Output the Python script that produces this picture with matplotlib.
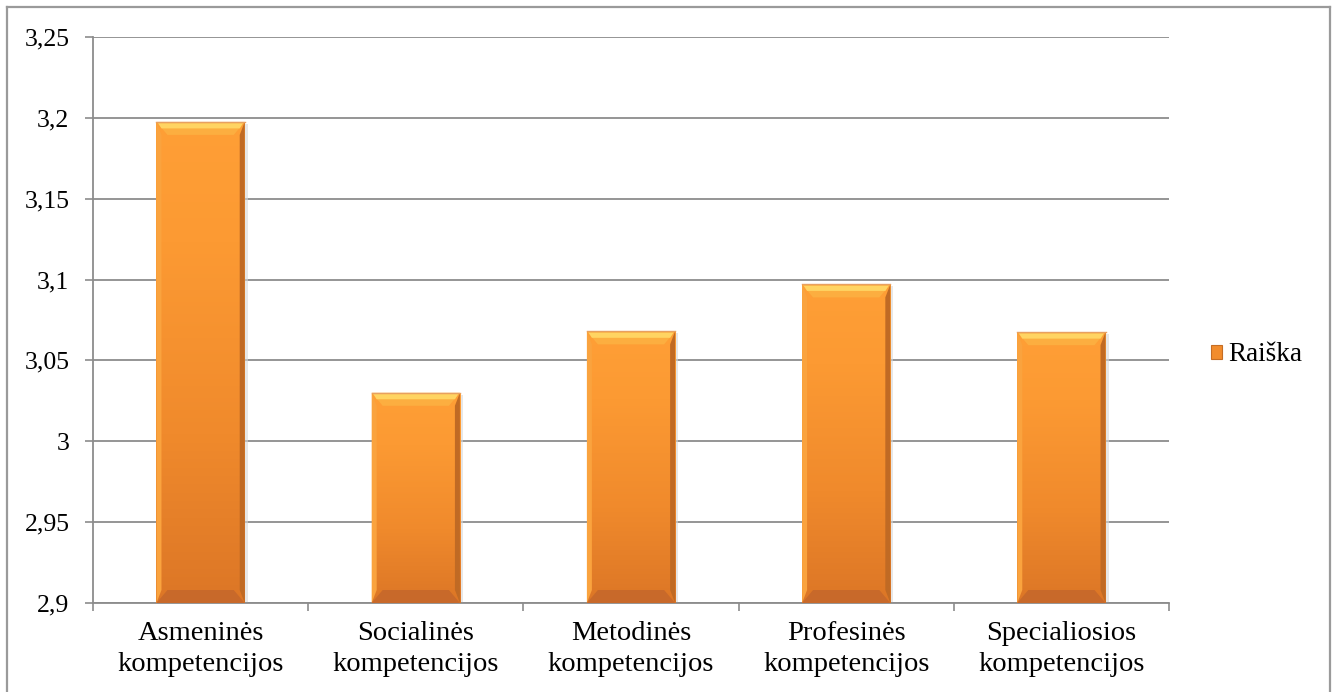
import numpy as np
import matplotlib.pyplot as plt
from matplotlib.patches import Polygon, Rectangle, Patch
from matplotlib.colors import LinearSegmentedColormap

categories = ["Asmeninės\nkompetencijos", "Socialinės\nkompetencijos",
              "Metodinės\nkompetencijos", "Profesinės\nkompetencijos",
              "Specialiosios\nkompetencijos"]
values = [3.1975, 3.030, 3.068, 3.097, 3.0675]
series_name = "Raiška"
y_ticks = [2.9, 2.95, 3.0, 3.05, 3.1, 3.15, 3.2, 3.25]
y_tick_labels = ["2,9", "2,95", "3", "3,05", "3,1", "3,15", "3,2", "3,25"]

plt.rcParams['font.family'] = ['Liberation Serif', 'DejaVu Serif']
grey = "#8c8c8c"

fig = plt.figure(figsize=(13.36, 6.92), dpi=100)
ax = fig.add_axes([93 / 1336, 1 - 603 / 692, (1169 - 93) / 1336, (603 - 37) / 692])

x = np.arange(len(values))
width = 0.41
ymin, ymax = 2.9, 3.25
bars = ax.bar(x, np.array(values) - ymin, width, bottom=ymin,
              color="#f7962f", edgecolor="none", zorder=3)

# pixel -> data scale for the bevel edges
ax_w_px = 1169 - 93
ax_h_px = 603 - 37
px_x = len(values) / ax_w_px
px_y = (ymax - ymin) / ax_h_px

face = LinearSegmentedColormap.from_list(
    "face", [(0, "#dc7626"), (0.35, "#f08a2c"), (0.75, "#fc9a33"), (1, "#ff9f36")])
grad = np.linspace(0, 1, 256).reshape(-1, 1)

for xi, v, b in zip(x, values, bars):
    x0, x1 = xi - width / 2, xi + width / 2
    # soft shadow to the right
    ax.add_patch(Rectangle((x1, ymin), 3 * px_x, v - ymin - 2 * px_y,
                           color="#d8d8d8", alpha=0.6, lw=0, zorder=2))
    im = ax.imshow(grad, cmap=face, origin="lower", aspect="auto",
                   extent=(x0, x1, ymin, v), zorder=3.5)
    im.set_clip_path(b)
    bx, by = 11 * px_x, 13 * px_y
    sx = 5 * px_x
    top = Polygon([(x0, v), (x1, v), (x1 - bx, v - by), (x0 + bx, v - by)],
                  closed=True, color="#fcae40", lw=0, zorder=4)
    top_hi = Polygon([(x0 + bx * 0.15, v - by * 0.1), (x1 - bx * 0.15, v - by * 0.1),
                      (x1 - bx * 0.45, v - by * 0.5), (x0 + bx * 0.45, v - by * 0.5)],
                     closed=True, color="#ffd462", lw=0, zorder=4.1)
    left = Polygon([(x0, v), (x0 + sx, v - by), (x0 + sx, ymin + by), (x0, ymin)],
                   closed=True, color="#faa33e", lw=0, zorder=4)
    right = Polygon([(x1, v), (x1 - sx, v - by), (x1 - sx, ymin + by), (x1, ymin)],
                    closed=True, color="#c06a24", lw=0, zorder=4)
    bottom = Polygon([(x0, ymin), (x1, ymin), (x1 - bx, ymin + by), (x0 + bx, ymin + by)],
                     closed=True, color="#c8692a", lw=0, zorder=4)
    for p in (top, top_hi, left, right, bottom):
        ax.add_patch(p)
    ax.plot([x0, x1], [v, v], color="#e8a060", lw=1, zorder=4.2)

ax.set_xlim(-0.5, len(values) - 0.5)
ax.set_ylim(ymin, ymax)
ax.set_yticks(y_ticks)
ax.set_yticklabels(y_tick_labels)
ax.set_xticks(x)
ax.set_xticklabels(categories, linespacing=1.3)
ax.set_xticks(np.arange(len(values) + 1) - 0.5, minor=True)
ax.tick_params(axis="x", which="major", length=0, pad=13, labelsize=20.5)
ax.tick_params(axis="x", which="minor", length=6, color=grey, width=1.2)
ax.tick_params(axis="y", length=6, color=grey, width=1.2, pad=11, labelsize=18.5)
ax.grid(axis="y", color=grey, lw=1.3, zorder=1)
ax.set_axisbelow(True)
for s in ("top", "right"):
    ax.spines[s].set_visible(False)
for s in ("left", "bottom"):
    ax.spines[s].set_color(grey)
    ax.spines[s].set_linewidth(1.3)

handle = Patch(facecolor="#f28c2c", edgecolor="#c56d24", lw=0.8)
fig.legend([handle], [series_name], loc="center left",
           bbox_to_anchor=(1211 / 1336, 1 - 355 / 692), frameon=False,
           fontsize=19.5, handlelength=0.42, handleheight=0.42,
           handletextpad=0.2, borderpad=0, borderaxespad=0)

# chart frame (open at the bottom edge)
fig.add_artist(plt.Line2D([7 / 1336, 7 / 1336], [0, 1 - 7 / 692],
                          transform=fig.transFigure, color="#9a9a9a", lw=1.6))
fig.add_artist(plt.Line2D([7 / 1336, 1330 / 1336], [1 - 7 / 692, 1 - 7 / 692],
                          transform=fig.transFigure, color="#9a9a9a", lw=1.6))
fig.add_artist(plt.Line2D([1330 / 1336, 1330 / 1336], [0, 1 - 7 / 692],
                          transform=fig.transFigure, color="#9a9a9a", lw=1.6))

fig.savefig("out.png", dpi=100)
